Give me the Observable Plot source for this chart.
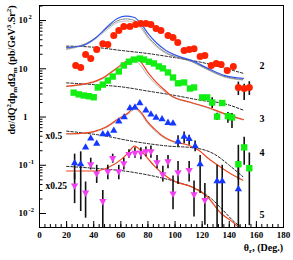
<!DOCTYPE html>
<html><head><meta charset="utf-8">
<script src="https://cdn.jsdelivr.net/npm/d3@7"></script>
<script src="https://cdn.jsdelivr.net/npm/@observablehq/plot@0.6"></script>
<style>
body{margin:0;background:#fff}
svg{font-family:"Liberation Serif","Times New Roman",serif}
</style>
</head><body><div id="chart"></div>
<script>
// ---------- data (theta in deg, cross section) ----------
const redCircles = [[26.7,11.7],[30.4,10.6],[34,19.8],[37.8,16.3],[42.2,25],[46.7,33],[50.4,32],[54.8,49],[58.5,62],[62.2,75],[66.7,75],[71,83],[74.8,87],[78.5,87],[82.2,83],[86,68],[89.6,62],[94.8,49],[98.5,44.5],[102,35],[106.7,24],[110.4,25],[114,26],[118.5,18],[122,18.8],[126.7,11.7],[130.4,12.9],[134,12.3],[138.5,9.2],[143,11.2],[146.7,4.1,2.8,5.3],[151,3.9,2.2,4.8],[154.8,4.1,2.8,5.4]];
const greenSquares = [[25.2,3.2],[28.9,2.95],[32.6,2.8],[36.3,2.7],[40,2.57],[43,4.1],[46.7,4.7],[50.4,5.7],[54,6.9],[58.5,8.8],[62.2,11.7],[66,14],[69.6,15.5],[74,16.3],[77,15.5],[80.7,14],[84.4,12.9],[88,11.2],[91,10.2],[94.8,8.4],[98.5,6.6],[102.2,5.0],[106.7,5.2],[111,3.9],[114,4.1],[120,2.55],[123.7,2.55],[127.4,2.0,1.5,2.5],[131,1.02,0.85,1.2],[134.8,1.95],[139,1.04,0.74,1.24],[142,0.98,0.58,1.19],[146.7,0.105,0.049,0.26],[151,0.235,0.10,0.38],[154.8,0.087,0.0056,0.18]];
const blueTriangles = [[25.9,0.11,0.05,0.17],[30.4,0.105,0.011,0.19],[34,0.235],[37.8,0.36],[42.2,0.28],[46.7,0.44],[50.4,0.44],[54.8,0.52],[58.5,0.81],[62.5,0.99],[66.7,1.52],[70.4,1.58],[74,1.93],[78.5,1.38],[82.2,1.13],[86,0.97],[90.4,0.9],[94.8,0.76],[98.5,0.74],[102.2,0.31,0.24,0.41],[106.7,0.39,0.28,0.49],[110.4,0.35,0.26,0.42],[114.8,0.25,0.19,0.32],[118.5,0.105,0.026,0.16],[131,0.047,0.003,0.1],[134.8,0.047,0.003,0.1],[146.7,0.032,0.003,0.125]];
const pinkTriangles = [[25.9,0.038,0.016,0.068],[34,0.027,0.008,0.045],[37.8,0.105,0.08,0.14],[42.2,0.068,0.042,0.10],[46.7,0.018,0.004,0.03],[50.4,0.075,0.05,0.1],[54,0.14,0.11,0.17],[58.5,0.075,0.05,0.1],[62.2,0.11,0.08,0.14],[66,0.17,0.14,0.21],[70.4,0.18,0.14,0.23],[74.8,0.18,0.13,0.23],[78.5,0.195,0.15,0.24],[82.2,0.195,0.14,0.25],[86.7,0.115,0.085,0.16],[91,0.065,0.045,0.095],[94.8,0.12,0.085,0.16],[98.5,0.026,0.012,0.06],[102.2,0.071,0.04,0.12],[110.4,0.079,0.045,0.12],[114,0.025,0.0085,0.047],[122,0.019,0.0057,0.042]];

// curves
const total2 = [[20,27.6],[31.6,30],[41.5,44],[51,79],[57.8,112],[63.7,123],[69.6,117],[74.8,87],[80,54],[86,35],[93.3,24],[100.7,19],[112,14.9],[124.4,10.2],[136.3,7.3],[150.4,6.3]];
const grayA2 = [[20,26],[40,41],[50,70],[58,100],[64,108],[70,100],[75,75],[80,47],[86,31],[93,22],[100,18],[112,14.3],[124,9.8],[136,7.0],[150,6.0]];
const grayB2 = [[20,25],[40,39],[50,65],[58,92],[64,98],[70,90],[75,68],[80,43],[86,29],[93,21],[100,17.5],[112,14],[124,9.5],[136,6.8],[150,5.8]];
const bg2 = [[20,29.5],[40,28],[60,24],[80,20.7],[100,17],[120,13.5],[140,9.7],[150,8.1]];
const total3 = [[20,4.37],[30,4.7],[39,5.3],[46.4,6.4],[56.3,10],[63.7,14.1],[69.6,16.6],[74.8,13.7],[79.8,8.5],[86,5.3],[91,3.9],[97,2.8],[112,2.0],[124.4,1.58],[136.3,1.18],[150.4,0.89]];
const gray3 = [[20,4.3],[39,5.1],[46,6.1],[56,9.5],[64,13.3],[69,15.2],[74,12.3],[79,7.8],[85,5.0],[91,3.6],[97,2.7],[112,1.95],[124,1.55],[136,1.15],[150,0.87]];
const bg3 = [[20,5.1],[40,4.7],[61,4.2],[80,3.45],[100,2.8],[120,2.2],[136,1.9],[150,1.4]];
const total4 = [[20,0.45],[30,0.46],[40,0.5],[49,0.62],[58.5,0.93],[66,1.26],[69.6,1.6],[74.8,1.26],[79.8,0.79],[85,0.56],[90,0.42],[99,0.31],[110,0.26],[118,0.2],[124.4,0.14],[134,0.09],[141,0.067],[150,0.049]];
const gray4 = [[20,0.44],[40,0.49],[49,0.6],[58.5,0.88],[66,1.18],[70,1.45],[75,1.15],[80,0.72],[85,0.52],[90,0.4],[99,0.3]];
const bg4 = [[20,0.51],[45,0.42],[70,0.31],[95,0.25],[114,0.23],[129,0.17],[140,0.1],[150,0.058]];
const total5 = [[20,0.076],[41,0.076],[51,0.091],[61,0.137],[66,0.19],[70,0.25],[75,0.2],[80,0.137],[85,0.095],[91,0.067],[99,0.047],[112,0.036],[124,0.022],[134,0.01],[141,0.0072],[147,0.0052],[152,0.004]];
const bg5 = [[20,0.095],[44,0.085],[61,0.077],[80,0.063],[91,0.054],[105,0.042],[115,0.033],[127,0.02],[135,0.012],[144,0.0066],[152,0.0045]];

// axis ticks / labels
const xTicks = [0,20,40,60,80,100,120,140,160,180];
const xMinor = d3.range(0,181,4);
const yTicks = [100,10,1,0.1,0.01];
const yTickBase = ["10","10","1","10","10"];
const yTickExp = ["2","","","-1","-2"];
const yMinor = [0.01,0.1,1,10,100].flatMap(p => [2,3,4,5,6,7,8,9].map(k => k*p)).filter(v => v < 205);
const seriesLabels = ["2","3","4","5"];
const seriesLabelY = [11.7,0.93,0.18,0.0096];
const scaleLabels = ["x0.5","x0.25"];
const scaleLabelY = [0.414,0.038];

const pts = a => a.map(([t,v,lo,hi]) => ({t,v,lo,hi}));
const R = pts(redCircles), G = pts(greenSquares), B = pts(blueTriangles), P = pts(pinkTriangles);
const bars = [...R,...G,...B,...P].filter(d => d.lo !== undefined);

const line = (a, o) => Plot.line(a, {x: d=>d[0], y: d=>d[1], curve: "monotone-x", clip: true, ...o});
const dash = {stroke: "#222", strokeWidth: 1, strokeDasharray: "2.5,1.8"};
const red = "#f0431c";

const svg = Plot.plot({
  width: 293, height: 260,
  marginTop: 5, marginBottom: 33, marginLeft: 39, marginRight: 10,
  x: {domain: [0,180], label: null},
  y: {type: "log", domain: [0.00513, 205], label: null},
  style: {background: "white", fontFamily: "'Liberation Serif','Times New Roman',serif"},
  marks: [
    // axes: inward ticks
    Plot.axisY({ticks: yTicks, tickSize: 7, dx: 7, tickFormat: () => "", strokeWidth: 1, label: null}),
    Plot.axisY({ticks: yMinor, tickSize: 3.5, dx: 3.5, tickFormat: () => "", strokeWidth: 1, label: null}),
    Plot.axisX({ticks: xTicks, tickSize: 6, dy: -6, tickFormat: () => "", strokeWidth: 1, label: null}),
    Plot.axisX({ticks: xMinor, tickSize: 3, dy: -3, tickFormat: () => "", strokeWidth: 1, label: null}),
    Plot.axisX({ticks: xTicks, tickSize: 0, tickPadding: 4, fontWeight: "bold", fontSize: 9, label: null}),
    Plot.text(yTicks, {y: d => d, text: (d,i) => yTickBase[i], frameAnchor: "left", textAnchor: "end", dx: -12, fontWeight: "bold", fontSize: 9}),
    Plot.text(yTicks, {y: d => d, text: (d,i) => yTickExp[i], frameAnchor: "left", textAnchor: "start", dx: -11, dy: -3.5, fontWeight: "bold", fontSize: 6.5}),
    // background dashed
    line(bg2, dash), line(bg3, dash), line(bg4, dash), line(bg5, dash),
    // gray companions
    line(grayB2, {stroke: "#b0b0b0", strokeWidth: 0.8}),
    line(grayA2, {stroke: "#555", strokeWidth: 0.8, strokeDasharray: "1.5,1"}),
    line(gray3, {stroke: "#a0a0a0", strokeWidth: 0.8}),
    line(gray4, {stroke: "#a0a0a0", strokeWidth: 0.8}),
    // total curves
    line(total2, {stroke: "#3458e8", strokeWidth: 1.2}),
    line(total3, {stroke: red, strokeWidth: 1.2}),
    line(total4, {stroke: red, strokeWidth: 1.2}),
    line(total5, {stroke: red, strokeWidth: 1.2}),
    // error bars
    Plot.ruleX(bars, {x: "t", y1: "lo", y2: "hi", stroke: "#111", strokeWidth: 1.6, clip: true}),
    // data points
    Plot.dot(R, {x: "t", y: "v", r: 3.5, fill: "#ff2200", stroke: null}),
    Plot.dot(G, {x: "t", y: "v", r: 3.6, symbol: "square", fill: "#11ee11", stroke: null}),
    Plot.dot(B, {x: "t", y: "v", r: 2.7, symbol: "triangle", fill: "#1438ff", stroke: null}),
    Plot.dot(P, {x: "t", y: "v", r: 2.7, symbol: "triangle", rotate: 180, fill: "#f040f0", stroke: null}),
    // annotations
    Plot.text(seriesLabels, {y: (d,i) => seriesLabelY[i], text: d => d, frameAnchor: "right", dx: -19, fontWeight: "bold", fontSize: 10}),
    Plot.text(scaleLabels, {y: (d,i) => scaleLabelY[i], text: d => d, frameAnchor: "left", dx: 6, textAnchor: "start", fontWeight: "bold", fontSize: 9.5}),
    Plot.frame({stroke: "black", strokeWidth: 1})
  ]
});

const s = d3.select(svg);
// y axis label
const yl = s.append("text")
  .attr("transform", "translate(15,70) rotate(-90)")
  .attr("text-anchor", "middle")
  .attr("font-weight", "bold").attr("font-size", 10).attr("fill", "black");
const parts = [["dσ/dQ",0,10],["2",-4,7],["dp",4,10],["m",2,7],["dΩ",-2,10],["m",2,7],[" (pb/GeV",-2,10],["3",-4,7],[".Sr",4,10],["2",-4,7],[")",4,10]];
parts.forEach(([t,dy,fs]) => yl.append("tspan").attr("dy", dy).attr("font-size", fs).text(t));
// x axis label
const xl = s.append("text")
  .attr("x", 283).attr("y", 251).attr("text-anchor", "end")
  .attr("font-weight", "bold").attr("font-size", 10).attr("fill", "black");
[["θ",0,10],["r",2,7],[", (Deg.)",-2,10]].forEach(([t,dy,fs]) => xl.append("tspan").attr("dy", dy).attr("font-size", fs).text(t));

document.getElementById("chart").appendChild(svg);
</script>
</body></html>
